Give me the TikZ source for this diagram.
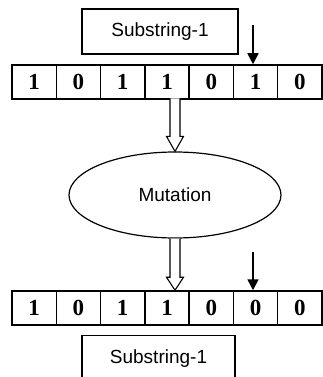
\documentclass[tikz,border=0pt]{standalone}
\usepackage{fontspec}
\setmainfont{Liberation Sans}
\newfontfamily\digitfont{Liberation Serif}
\usetikzlibrary{shapes.geometric,arrows.meta,calc}
\begin{document}
\begin{tikzpicture}[x=1pt,y=-1pt,
  cell/.style={draw,line width=1.5pt,minimum width=44.29pt,minimum height=34pt,inner sep=0pt,font=\digitfont\bfseries\fontsize{23}{23}\selectfont},
  labelbox/.style={draw,line width=1.2pt,inner sep=0pt,font=\fontsize{19}{19}\selectfont},
  hollow/.style={draw,line width=1.1pt,fill=white},
  pointer/.style={line width=1.6pt,-{Triangle[width=11pt,length=11pt]}}]
\clip (0,0) rectangle (323,377);
\useasboundingbox (0,0) rectangle (323,377);
% top label
\node[labelbox,minimum width=156pt,minimum height=45pt] (top) at (160,31.5) {Substring-1};
% top row
\foreach \i/\d in {1/1,2/0,3/1,4/1,5/0,6/1,7/0}{
  \node[cell] (a\i) at ({12+44.29*(\i-0.5)},82) {\d};
}
% mutation ellipse
\node[draw,ellipse,line width=1.2pt,minimum width=212pt,minimum height=86pt,inner sep=0pt,font=\fontsize{19}{19}\selectfont] (mut) at (175,195) {Mutation};
% bottom row
\foreach \i/\d in {1/1,2/0,3/1,4/1,5/0,6/0,7/0}{
  \node[cell] (b\i) at ({12+44.29*(\i-0.5)},308) {\d};
}
% bottom label (cut by the picture edge)
\node[labelbox,minimum width=153pt,minimum height=70pt,anchor=north] (bot) at (158.5,335) {};
\node[font=\fontsize{19}{19}\selectfont] (botText) at (158.5,359) {Substring-1};
% pointers
\coordinate (p1) at (253,25);
\draw[pointer] (p1) -- (p1 |- a6.north);
\coordinate (p2) at (253,252);
\draw[pointer] (p2) -- (p2 |- b6.north);
% hollow arrows
\draw[hollow] ($(mut.north)+(-5,-53)$) -- ($(mut.north)+(-5,-15)$) -- ($(mut.north)+(-8.5,-15)$) -- (mut.north) -- ($(mut.north)+(8.5,-15)$) -- ($(mut.north)+(5,-15)$) -- ($(mut.north)+(5,-53)$);
\draw[hollow] ($(mut.south)+(-5,0)$) -- ($(mut.south |- b4.north)+(-5,-13)$) -- ($(mut.south |- b4.north)+(-8.5,-13)$) -- (mut.south |- b4.north) -- ($(mut.south |- b4.north)+(8.5,-13)$) -- ($(mut.south |- b4.north)+(5,-13)$) -- ($(mut.south)+(5,0)$);
\end{tikzpicture}
\end{document}
